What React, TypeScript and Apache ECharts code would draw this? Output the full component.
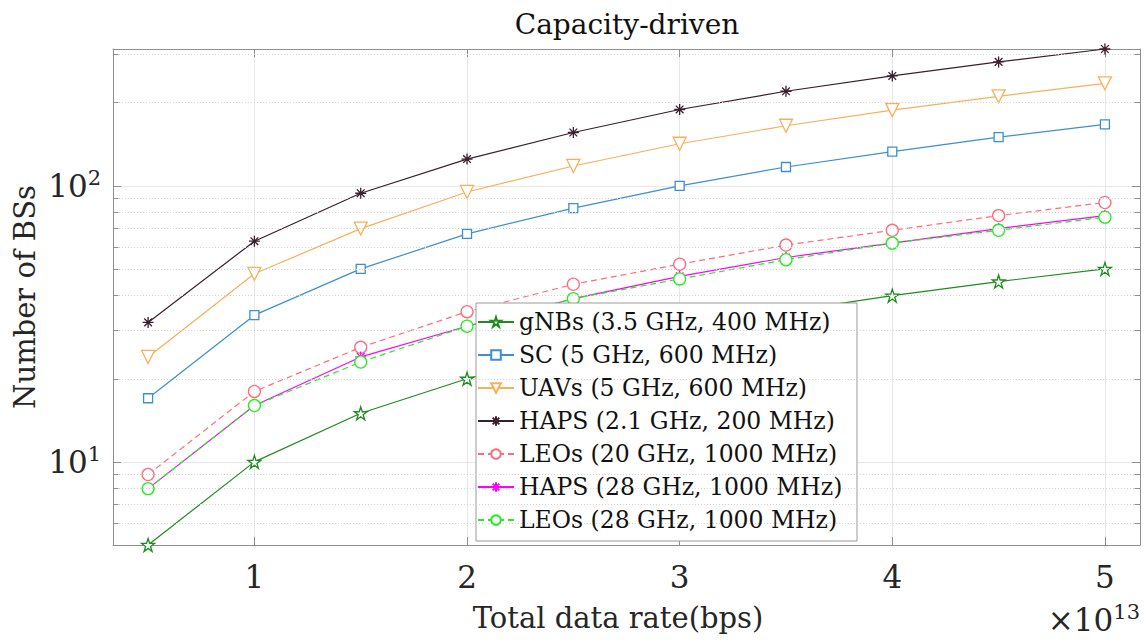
import React, { useEffect, useRef } from "react";
import * as echarts from "echarts";

const xValues = [0.5, 1, 1.5, 2, 2.5, 3, 3.5, 4, 4.5, 5];
const gnbs = [5, 10, 15, 20, 25, 30, 35, 40, 45, 50];
const sc = [17, 34, 50, 67, 83, 100, 117, 133, 150, 167];
const uavs = [24, 48, 70, 95, 118, 142, 165, 188, 211, 235];
const haps21 = [32, 63, 94, 125, 156, 189, 220, 250, 281, 313];
const leos20 = [9, 18, 26, 35, 44, 52, 61, 69, 78, 87];
const haps28 = [8, 16, 24, 31, 39, 47, 55, 62, 70, 78];
const leos28 = [8, 16, 23, 31, 39, 46, 54, 62, 69, 77];

const seriesNames = [
  "gNBs (3.5 GHz, 400 MHz)",
  "SC (5 GHz, 600 MHz)",
  "UAVs (5 GHz, 600 MHz)",
  "HAPS (2.1 GHz, 200 MHz)",
  "LEOs (20 GHz, 1000 MHz)",
  "HAPS (28 GHz, 1000 MHz)",
  "LEOs (28 GHz, 1000 MHz)",
];
const minorGrid = [6, 7, 8, 9, 20, 30, 40, 50, 60, 70, 80, 90, 200, 300];

const X_MIN = 0.335;
const X_MAX = 5.165;
const Y_MIN = 5;
const Y_MAX = 313;
const FONT = "DejaVu Serif";
const AXIS_COLOR = "#8f8f8f";

const STAR =
  "path://M0,-1L0.2245,-0.309L0.951,-0.309L0.363,0.118L0.588,0.809L0,0.382L-0.588,0.809L-0.363,0.118L-0.951,-0.309L-0.2245,-0.309Z";
const ASTER =
  "path://M0,-1L0,1M-1,0L1,0M-0.7,-0.7L0.7,0.7M-0.7,0.7L0.7,-0.7";

function pts(ys: number[]) {
  return xValues.map((x, i) => [x, ys[i]]);
}

export default function App() {
  const ref = useRef<HTMLDivElement>(null);
  useEffect(() => {
    document.body.style.margin = "0";
    const chart = echarts.init(ref.current!, null, { renderer: "svg" });

    const mk = (
      name: string,
      data: number[],
      color: string,
      symbol: string,
      size: number,
      opts: any = {}
    ) => ({
      name,
      type: "line",
      data: pts(data),
      color,
      symbol,
      symbolSize: size,
      showAllSymbol: true,
      lineStyle: { color, width: 1.2, type: opts.dash ? [6, 4] : "solid" },
      itemStyle: {
        color: opts.fill ?? "#fff",
        borderColor: color,
        borderWidth: opts.bw ?? 1.3,
      },
      symbolRotate: opts.rot ?? 0,
      emphasis: { disabled: true },
    });

    const minorTicks: any[] = [];
    minorGrid.forEach((v) => {
      minorTicks.push([{ coord: [X_MIN, v] }, { coord: [X_MIN + 0.026, v] }]);
      minorTicks.push([{ coord: [X_MAX - 0.026, v] }, { coord: [X_MAX, v] }]);
    });

    const yLabel = (v: number) => {
      if (Math.abs(v - 10) < 1e-6) return "{n|10}{s|1}";
      if (Math.abs(v - 100) < 1e-6) return "{n|10}{s|2}";
      return "";
    };

    chart.setOption({
      animation: false,
      grid: { left: 113, top: 49, right: 6, bottom: 95, containLabel: false },
      xAxis: [
        {
          type: "value",
          min: X_MIN,
          max: X_MAX,
          position: "bottom",
          axisLine: { show: true, lineStyle: { color: AXIS_COLOR, width: 1 } },
          axisTick: { show: true, inside: true, length: 8, lineStyle: { color: AXIS_COLOR } },
          axisLabel: {
            margin: 16,
            fontFamily: FONT,
            fontSize: 31,
            color: "#262626",
            formatter: (v: number) => (Math.abs(v - Math.round(v)) < 1e-6 ? String(Math.round(v)) : ""),
          },
          splitLine: { show: true, lineStyle: { color: "#e6e6e6", width: 1 } },
        },
        {
          type: "value",
          min: X_MIN,
          max: X_MAX,
          position: "top",
          axisLine: { show: true, lineStyle: { color: AXIS_COLOR, width: 1 } },
          axisTick: { show: true, inside: true, length: 8, lineStyle: { color: AXIS_COLOR } },
          axisLabel: { show: false },
          splitLine: { show: false },
        },
      ],
      yAxis: [
        {
          type: "log",
          logBase: 10,
          min: Y_MIN,
          max: Y_MAX,
          position: "left",
          axisLine: { show: true, lineStyle: { color: AXIS_COLOR, width: 1 } },
          axisTick: { show: true, inside: true, length: 8, lineStyle: { color: AXIS_COLOR } },
          axisLabel: {
            margin: 12,
            formatter: yLabel,
            rich: {
              n: { fontFamily: FONT, fontSize: 31, color: "#262626" },
              s: { fontFamily: FONT, fontSize: 21, color: "#262626", padding: [0, 0, 16, 0] },
            },
          },
          splitLine: { show: true, lineStyle: { color: "#e6e6e6", width: 1 } },
        },
        {
          type: "log",
          logBase: 10,
          min: Y_MIN,
          max: Y_MAX,
          position: "right",
          axisLine: { show: true, lineStyle: { color: AXIS_COLOR, width: 1 } },
          axisTick: { show: true, inside: true, length: 8, lineStyle: { color: AXIS_COLOR } },
          axisLabel: { show: false },
          splitLine: { show: false },
        },
      ],
      legend: {
        data: seriesNames,
        orient: "vertical",
        left: 477,
        top: 310,
        padding: 0,
        itemWidth: 36,
        itemHeight: 12,
        itemGap: 9,
        selectedMode: false,
        z: 6,
        textStyle: { fontFamily: FONT, fontSize: 23.5, lineHeight: 24, color: "#111" },
      },
      graphic: [
        {
          type: "rect",
          z: 5,
          shape: { x: 476, y: 303, width: 381, height: 238 },
          style: { fill: "#fff", stroke: "#9a9a9a", lineWidth: 1 },
        },
        {
          type: "text",
          x: 627,
          y: 24,
          style: {
            text: "Capacity-driven",
            fontFamily: FONT,
            fontSize: 28,
            fill: "#111",
            align: "center",
            verticalAlign: "middle",
          },
        },
        {
          type: "text",
          x: 618,
          y: 618,
          style: {
            text: "Total data rate(bps)",
            fontFamily: FONT,
            fontSize: 29,
            fill: "#262626",
            align: "center",
            verticalAlign: "middle",
          },
        },
        {
          type: "text",
          x: 25,
          y: 297,
          rotation: Math.PI / 2,
          style: {
            text: "Number of BSs",
            fontFamily: FONT,
            fontSize: 29,
            fill: "#262626",
            align: "center",
            verticalAlign: "middle",
          },
        },
        {
          type: "text",
          x: 1140,
          y: 620,
          style: {
            text: "{a|×10}{b|13}",
            align: "right",
            verticalAlign: "middle",
            rich: {
              a: { fontFamily: FONT, fontSize: 31, fill: "#262626" },
              b: { fontFamily: FONT, fontSize: 21, fill: "#262626", padding: [0, 0, 16, 0] },
            },
          },
        },
      ],
      series: [
        {
          name: "__grid",
          type: "line",
          data: [],
          silent: true,
          markLine: {
            silent: true,
            symbol: ["none", "none"],
            label: { show: false },
            lineStyle: { color: "#d4d4d4", type: [1, 2], width: 1 },
            emphasis: { disabled: true },
            data: minorGrid.map((v) => ({ yAxis: v })),
          },
        },
        {
          name: "__ticks",
          type: "line",
          data: [],
          silent: true,
          markLine: {
            silent: true,
            symbol: ["none", "none"],
            label: { show: false },
            lineStyle: { color: AXIS_COLOR, type: "solid", width: 1 },
            emphasis: { disabled: true },
            data: minorTicks,
          },
        },
        mk(seriesNames[0], gnbs, "#1e8c1e", STAR, 13),
        mk(seriesNames[1], sc, "#3b8fd2", "rect", 9),
        mk(seriesNames[2], uavs, "#f7b05a", "triangle", 13, { rot: 180 }),
        mk(seriesNames[3], haps21, "#3a1f2e", ASTER, 11, { fill: "none", bw: 1.3 }),
        mk(seriesNames[4], leos20, "#ff6b7c", "circle", 12, { dash: true }),
        mk(seriesNames[5], haps28, "#ff00ff", ASTER, 11, { fill: "none", bw: 1.3 }),
        mk(seriesNames[6], leos28, "#22ee22", "circle", 12, { dash: true }),
      ],
    });
    return () => chart.dispose();
  }, []);
  return <div ref={ref} style={{ width: 1146, height: 640 }} />;
}
